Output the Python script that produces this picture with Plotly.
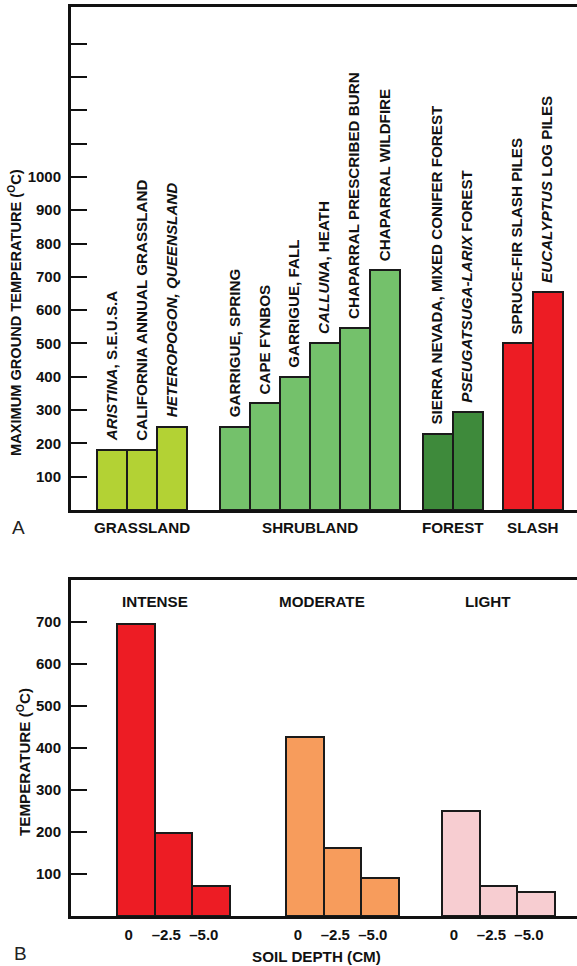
import plotly.graph_objects as go

# ---------------- Panel A data ----------------
groups_a = ["GRASSLAND", "SHRUBLAND", "FOREST", "SLASH"]
group_colors_a = ["#b3d234", "#74c16b", "#3e8a3b", "#ed1c24"]

grassland_labels = ["<i>ARISTINA</i>, S.E.U.S.A", "CALIFORNIA ANNUAL GRASSLAND",
                    "<i>HETEROPOGON, QUEENSLAND</i>"]
grassland_temps = [180, 180, 250]

shrubland_labels = ["GARRIGUE, SPRING", "CAPE FYNBOS", "GARRIGUE, FALL",
                    "<i>CALLUNA</i>, HEATH", "CHAPARRAL PRESCRIBED BURN",
                    "CHAPARRAL WILDFIRE"]
shrubland_temps = [250, 320, 400, 500, 545, 720]

forest_labels = ["SIERRA NEVADA, MIXED CONIFER FOREST", "<i>PSEUGATSUGA-LARIX</i> FOREST"]
forest_temps = [228, 295]

slash_labels = ["SPRUCE-FIR SLASH PILES", "<i>EUCALYPTUS</i> LOG PILES"]
slash_temps = [500, 655]

y_ticks_a = list(range(100, 1100, 100))
y_minor_ticks_a = list(range(1100, 1500, 100))

# ---------------- Panel B data ----------------
groups_b = ["INTENSE", "MODERATE", "LIGHT"]
group_colors_b = ["#ed1c24", "#f79c5c", "#f7cdd1"]
depth_labels = ["0", "–2.5", "–5.0"]
intense_temps = [695, 197, 72]
moderate_temps = [427, 162, 90]
light_temps = [250, 72, 56]
y_ticks_b = list(range(100, 800, 100))

# ---------------- layout helpers ----------------
W, H = 577, 966
FONT = "Liberation Sans, Arial, sans-serif"
L_MARGIN = 71


def py(px):
    """pixel row -> paper y"""
    return 1 - px / H


def px_x(px):
    """pixel column -> paper x (paper spans the plot width)"""
    return (px - L_MARGIN) / (W - L_MARGIN)


def group_positions(sizes, start, gaps):
    """Centres of unit-width bars laid out in groups separated by gaps."""
    out = []
    left = start
    for i, n in enumerate(sizes):
        out.append([left + k + 0.5 for k in range(n)])
        left += n
        if i < len(gaps):
            left += gaps[i]
    return out


fig = go.Figure()

# ---- Panel A bars ----
a_labels = [grassland_labels, shrubland_labels, forest_labels, slash_labels]
a_temps = [grassland_temps, shrubland_temps, forest_temps, slash_temps]
a_pos = group_positions([len(t) for t in a_temps], 0.87, [1.1, 0.75, 0.67])
annotations = []
for name, col, xs, ys, labs in zip(groups_a, group_colors_a, a_pos, a_temps, a_labels):
    fig.add_trace(go.Bar(x=xs, y=ys, width=1.0, marker=dict(color=col, line=dict(color="#1a1a1a", width=2)),
                         xaxis="x", yaxis="y", name=name, showlegend=False, hoverinfo="skip"))
    for x, y, t in zip(xs, ys, labs):
        annotations.append(dict(x=x, y=y, xref="x", yref="y", text=t, textangle=-90,
                                showarrow=False, xanchor="center", yanchor="bottom", yshift=7,
                                xshift=-1,
                                font=dict(family=FONT, size=15.2, color="#111", weight="bold")))
    annotations.append(dict(x=sum(xs) / len(xs), y=py(527), xref="x", yref="paper", text=name,
                            showarrow=False, xanchor="center", yanchor="middle",
                            font=dict(family=FONT, size=15.2, color="#111", weight="bold")))

# ---- Panel B bars ----
b_temps = [intense_temps, moderate_temps, light_temps]
b_pos = group_positions([3, 3, 3], 1.227, [1.507, 1.16])
b_tickvals, b_ticktext = [], []
title_px = [155, 322, 488]
for name, col, xs, ys, tpx in zip(groups_b, group_colors_b, b_pos, b_temps, title_px):
    fig.add_trace(go.Bar(x=xs, y=ys, width=1.0, marker=dict(color=col, line=dict(color="#1a1a1a", width=2)),
                         xaxis="x2", yaxis="y2", name=name, showlegend=False, hoverinfo="skip"))
    b_tickvals += xs
    b_ticktext += depth_labels
    annotations.append(dict(x=px_x(tpx), y=py(601), xref="paper", yref="paper", text=name,
                            showarrow=False, xanchor="center", yanchor="middle",
                            font=dict(family=FONT, size=15.2, color="#111", weight="bold")))

# axis titles and panel letters
annotations += [
    dict(x=px_x(15), y=py(313), xref="paper", yref="paper", textangle=-90, showarrow=False,
         text="MAXIMUM GROUND TEMPERATURE (<sup>O</sup>C)", xanchor="center", yanchor="middle",
         font=dict(family=FONT, size=14.6, color="#111", weight="bold")),
    dict(x=px_x(23), y=py(762), xref="paper", yref="paper", textangle=-90, showarrow=False,
         text="TEMPERATURE (<sup>O</sup>C)", xanchor="center", yanchor="middle",
         font=dict(family=FONT, size=15.2, color="#111", weight="bold")),
    dict(x=px_x(316), y=py(956), xref="paper", yref="paper", showarrow=False,
         text="SOIL DEPTH (CM)", xanchor="center", yanchor="middle",
         font=dict(family=FONT, size=15.2, color="#111", weight="bold")),
    dict(x=px_x(18), y=py(527), xref="paper", yref="paper", showarrow=False, text="A",
         xanchor="center", yanchor="middle", font=dict(family=FONT, size=19, color="#222")),
    dict(x=px_x(20), y=py(953), xref="paper", yref="paper", showarrow=False, text="B",
         xanchor="center", yanchor="middle", font=dict(family=FONT, size=19, color="#222")),
]

axis_common = dict(showgrid=False, zeroline=False, linecolor="#111", linewidth=3)
tick_style = dict(ticks="inside", ticklen=16, tickwidth=2, tickcolor="#111")
fig.update_layout(
    width=W, height=H,
    margin=dict(l=L_MARGIN, r=0, t=0, b=0),
    paper_bgcolor="white", plot_bgcolor="white",
    bargap=0,
    annotations=annotations,
    xaxis=dict(domain=[0, 1], range=[0, 16.87], showticklabels=False, ticks="",
               mirror=True, anchor="y", **axis_common),
    yaxis=dict(domain=[py(510), py(7)], range=[0, 1510], tickmode="array", tickvals=y_ticks_a,
               anchor="x", ticklabelstandoff=4,
               minor=dict(tickmode="array", tickvals=y_minor_ticks_a, **tick_style),
               tickfont=dict(family=FONT, size=15, color="#111", weight="bold"),
               **tick_style, **axis_common),
    xaxis2=dict(domain=[0, 1], range=[0, 13.49], tickvals=b_tickvals, ticktext=b_ticktext,
                ticks="", mirror=True, anchor="y2", ticklabelstandoff=3, ticklabelshift=-7,
                tickfont=dict(family=FONT, size=15, color="#111", weight="bold"), **axis_common),
    yaxis2=dict(domain=[py(916), py(580)], range=[0, 800], tickvals=y_ticks_b,
                anchor="x2", ticklabelstandoff=4,
                tickfont=dict(family=FONT, size=15, color="#111", weight="bold"),
                **tick_style, **axis_common),
)

fig.write_html("out.html")
